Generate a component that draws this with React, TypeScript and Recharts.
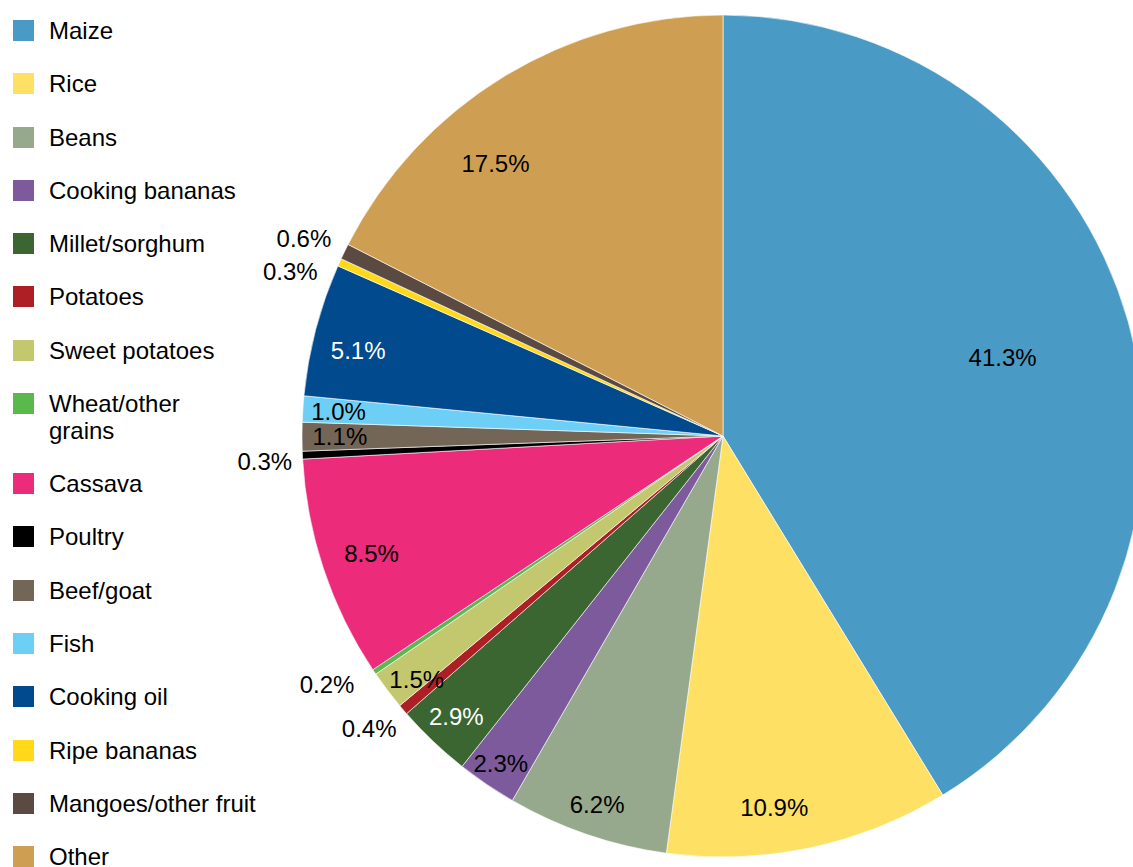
import React from "react";
import { Cell, Pie, PieChart } from "recharts";

// Share of household food spending by item (%), clockwise from 12 o'clock
const categories = [
  "Maize",
  "Rice",
  "Beans",
  "Cooking bananas",
  "Millet/sorghum",
  "Potatoes",
  "Sweet potatoes",
  "Wheat/other\ngrains",
  "Cassava",
  "Poultry",
  "Beef/goat",
  "Fish",
  "Cooking oil",
  "Ripe bananas",
  "Mangoes/other fruit",
  "Other",
];

const shares = [41.3, 10.9, 6.2, 2.3, 2.9, 0.4, 1.5, 0.2, 8.5, 0.3, 1.1, 1.0, 5.1, 0.3, 0.6, 17.5];

const colors = [
  "#4a9ac6",
  "#fde064",
  "#97a98c",
  "#7d5a9b",
  "#3b6631",
  "#ac1f24",
  "#c3c76e",
  "#5bb84c",
  "#ec2b7a",
  "#000000",
  "#736656",
  "#6dcff5",
  "#004a8d",
  "#ffd91a",
  "#5a4a42",
  "#ce9f53",
];

const whiteLabels = new Set(["Millet/sorghum", "Cooking oil"]);

// label placement: [fraction of outer radius, angle shift in degrees (ccw)]
const labelPlacement: Record<string, [number, number]> = {
  Maize: [0.69, 0],
  Rice: [0.89, -4],
  Beans: [0.924, 0],
  "Cooking bananas": [0.94, 0],
  "Millet/sorghum": [0.92, 0],
  Potatoes: [1.09, -1],
  "Sweet potatoes": [0.93, 1.4],
  "Wheat/other\ngrains": [1.11, -2],
  Cassava: [0.88, 0],
  Poultry: [1.09, 0.6],
  "Beef/goat": [0.91, 0],
  Fish: [0.915, 0],
  "Cooking oil": [0.89, 1.5],
  "Ripe bananas": [1.1, 3.5],
  "Mangoes/other fruit": [1.1, 0.8],
  Other: [0.843, 8.4],
};

const FONT = "'Liberation Sans', Arial, Helvetica, sans-serif";
const RAD = Math.PI / 180;

const data = categories.map((name, i) => ({ name, value: shares[i] }));

const renderLabel = (props: any) => {
  const { cx, cy, midAngle, outerRadius, index } = props;
  const name = categories[index];
  const [f, shift] = labelPlacement[name] ?? [0.92, 0];
  const r = outerRadius * f;
  const a = midAngle + shift;
  const x = cx + r * Math.cos(-a * RAD);
  const y = cy + r * Math.sin(-a * RAD);
  return (
    <text
      x={x}
      y={y}
      textAnchor="middle"
      dominantBaseline="central"
      fill={whiteLabels.has(name) ? "#fff" : "#000"}
      fontSize={24}
      fontFamily={FONT}
    >
      {shares[index].toFixed(1)}%
    </text>
  );
};

const Legend: React.FC = () => (
  <div style={{ position: "absolute", left: 0, top: 18, fontFamily: FONT, fontSize: 24 }}>
    {categories.map((name, i) => (
      <div
        key={name}
        style={{ display: "flex", alignItems: "flex-start", marginBottom: 26.6 }}
      >
        <div
          style={{
            width: 21,
            height: 21,
            marginLeft: 13,
            marginTop: 2,
            background: colors[i],
          }}
        />
        <div style={{ marginLeft: 15, lineHeight: "26.7px", whiteSpace: "pre-line", color: "#000" }}>
          {name}
        </div>
      </div>
    ))}
  </div>
);

export default function App() {
  return (
    <div
      style={{
        position: "absolute",
        left: 0,
        top: 0,
        width: 1133,
        height: 867,
        overflow: "hidden",
        background: "#fff",
      }}
    >
      <PieChart width={1133} height={867} margin={{ top: 0, right: 0, bottom: 0, left: 0 }}>
        <Pie
          data={data}
          dataKey="value"
          nameKey="name"
          cx={723}
          cy={436}
          outerRadius={421}
          startAngle={90}
          endAngle={-270}
          stroke="#fff"
          strokeWidth={0.6}
          label={renderLabel}
          labelLine={false}
          isAnimationActive={false}
        >
          {data.map((d, i) => (
            <Cell key={d.name} fill={colors[i]} />
          ))}
        </Pie>
      </PieChart>
      <Legend />
    </div>
  );
}
